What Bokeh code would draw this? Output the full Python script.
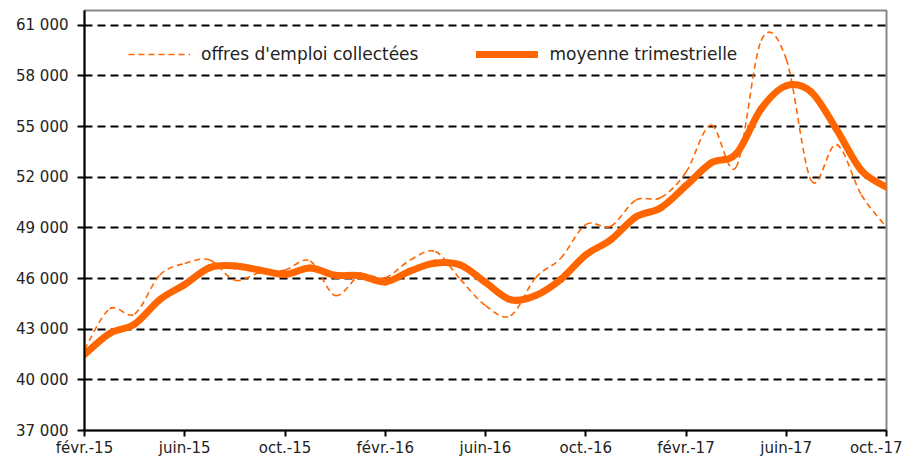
from bokeh.plotting import figure
from bokeh.models import ColumnDataSource, Legend, LegendItem, FixedTicker, Range1d
from bokeh.embed import file_html
from bokeh.resources import INLINE

months = ["févr.-15", "mars-15", "avr.-15", "mai-15", "juin-15", "juil.-15", "août-15", "sept.-15",
          "oct.-15", "nov.-15", "déc.-15", "janv.-16", "févr.-16", "mars-16", "avr.-16", "mai-16",
          "juin-16", "juil.-16", "août-16", "sept.-16", "oct.-16", "nov.-16", "déc.-16", "janv.-17",
          "févr.-17", "mars-17", "avr.-17", "mai-17", "juin-17", "juil.-17", "août-17", "sept.-17",
          "oct.-17"]

offres = [41800, 44200, 43900, 46200, 46900, 47100, 45900, 46350, 46500, 47050, 45000, 46200,
          46050, 47100, 47600, 45950, 44400, 43800, 46050, 47200, 49200, 49100, 50650, 50800,
          52300, 55100, 52600, 60100, 59000, 51800, 53950, 50950, 49050]

moyenne = [41500, 42750, 43300, 44750, 45650, 46650, 46750, 46500, 46250, 46630, 46200, 46170,
           45800, 46450, 46920, 46800, 45770, 44750, 45000, 45950, 47400, 48300, 49650, 50200,
           51500, 52850, 53380, 56050, 57420, 57050, 54850, 52400, 51420]

y_ticks = [37000, 40000, 43000, 46000, 49000, 52000, 55000, 58000, 61000]
y_labels = ["37 000", "40 000", "43 000", "46 000", "49 000", "52 000", "55 000", "58 000", "61 000"]

ORANGE = "#FF6600"
FONT = "DejaVu Sans"


def smooth_source(vals):
    n = len(vals)
    xs = list(range(n))
    x0, y0, x1, y1, cx0, cy0, cx1, cy1 = [], [], [], [], [], [], [], []
    for i in range(n - 1):
        ip = max(i - 1, 0)
        inx = min(i + 2, n - 1)
        x0.append(xs[i]); y0.append(vals[i])
        x1.append(xs[i + 1]); y1.append(vals[i + 1])
        cx0.append(xs[i] + (xs[i + 1] - xs[ip]) / 6.0)
        cy0.append(vals[i] + (vals[i + 1] - vals[ip]) / 6.0)
        cx1.append(xs[i + 1] - (xs[inx] - xs[i]) / 6.0)
        cy1.append(vals[i + 1] - (vals[inx] - vals[i]) / 6.0)
    return ColumnDataSource(dict(x0=x0, y0=y0, x1=x1, y1=y1, cx0=cx0, cy0=cy0, cx1=cx1, cy1=cy1))


p = figure(width=902, height=459, output_backend="svg", toolbar_location=None,
           x_range=Range1d(0, len(months) - 1), y_range=Range1d(37000, 61880),
           min_border_left=84, min_border_right=16, min_border_top=10, min_border_bottom=0)

p.outline_line_color = "#888888"
p.outline_line_width = 2
p.background_fill_color = "white"
p.border_fill_color = "white"

p.xgrid.visible = False
p.ygrid.ticker = FixedTicker(ticks=y_ticks)
p.ygrid.grid_line_color = "black"
p.ygrid.grid_line_width = 2
p.ygrid.grid_line_dash = "8 5"

p.yaxis.ticker = FixedTicker(ticks=y_ticks)
p.yaxis.major_label_overrides = {t: l for t, l in zip(y_ticks, y_labels)}
p.xaxis.ticker = FixedTicker(ticks=list(range(0, len(months), 4)))
p.xaxis.major_label_overrides = {i: months[i] for i in range(0, len(months), 4)}

for ax in (p.xaxis[0], p.yaxis[0]):
    ax.axis_line_color = "black"
    ax.axis_line_width = 2
    ax.major_tick_line_color = "black"
    ax.major_tick_line_width = 2
    ax.major_tick_in = 0
    ax.minor_tick_line_color = None
    ax.major_label_text_font = FONT
    ax.major_label_text_font_size = "15px"
    ax.major_label_text_color = "#222222"
p.yaxis.major_tick_out = 7
p.yaxis.major_label_standoff = 9
p.xaxis.major_tick_out = 6
p.xaxis.major_label_standoff = 2

s1 = smooth_source(offres)
r1 = p.bezier(x0="x0", y0="y0", x1="x1", y1="y1", cx0="cx0", cy0="cy0", cx1="cx1", cy1="cy1",
              source=s1, line_color=ORANGE, line_width=1.6, line_dash="6 4")
s2 = smooth_source(moyenne)
r2 = p.bezier(x0="x0", y0="y0", x1="x1", y1="y1", cx0="cx0", cy0="cy0", cx1="cx1", cy1="cy1",
              source=s2, line_color=ORANGE, line_width=7, line_cap="round")

legend = Legend(items=[LegendItem(label="offres d'emploi collectées", renderers=[r1], index=0),
                       LegendItem(label="moyenne trimestrielle", renderers=[r2], index=0)],
                orientation="horizontal", location=(44, 366),
                padding=0, margin=0, spacing=58, label_standoff=11,
                glyph_width=62, glyph_height=20, label_height=20,
                background_fill_alpha=0, border_line_color=None,
                label_text_font=FONT, label_text_font_size="17px", label_text_color="#222222")
p.add_layout(legend, "center")

open("out.html", "w").write(file_html(p, INLINE))
